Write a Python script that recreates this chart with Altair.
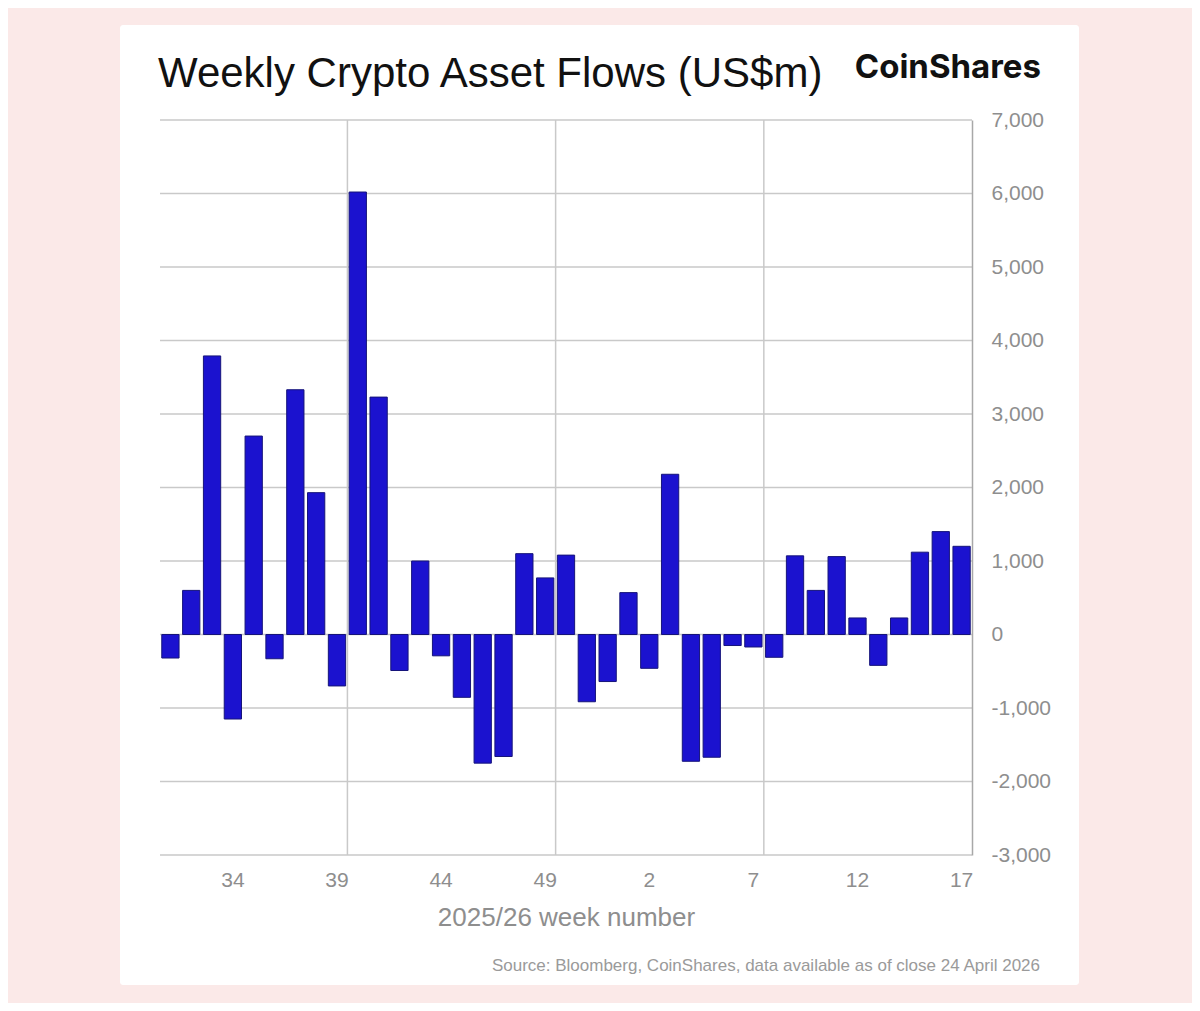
import pandas as pd
import altair as alt

# weekly flows, US$m (weeks 31-52 of 2025, then 1-17 of 2026)
weeks = ["31", "32", "33", "34", "35", "36", "37", "38", "39", "40", "41",
         "42", "43", "44", "45", "46", "47", "48", "49", "50", "51", "52",
         "1", "2", "3", "4", "5", "6", "7", "8", "9", "10", "11", "12",
         "13", "14", "15", "16", "17"]
flows = [-320, 600, 3790, -1150, 2700, -330, 3330, 1930, -700, 6020, 3230,
         -490, 1000, -290, -855, -1750, -1660, 1100, 770, 1080, -915, -640,
         570, -460, 2180, -1725, -1670, -150, -170, -310, 1070, 600, 1060, 225,
         -420, 225, 1120, 1400, 1200]

x_labels = ["34", "39", "44", "49", "2", "7", "12", "17"]
x_grid_after = ["39", "49", "7"]
y_ticks = [-3000, -2000, -1000, 0, 1000, 2000, 3000, 4000, 5000, 6000, 7000]

title_text = "Weekly Crypto Asset Flows (US$m)"
brand_text = "CoinShares"
source_text = "Source: Bloomberg, CoinShares, data available as of close 24 April 2026"

df = pd.DataFrame({"week": weeks, "flow": flows})

W, H = 812, 735
FONT = "Liberation Sans"
GREY = "#8e8e8e"
GRID = "#c9c9c9"

x_scale = alt.Scale(domain=weeks, paddingInner=0.17, paddingOuter=0.085)
y_scale = alt.Scale(domain=[-3000, 7000], nice=False, zero=False)

card = alt.Chart(pd.DataFrame({"c": [0]})).mark_rect(
    color="white", cornerRadius=3
).encode(
    x=alt.value(-40), x2=alt.value(919), y=alt.value(-95), y2=alt.value(865)
)

hgrid = alt.Chart(pd.DataFrame({"v": y_ticks})).mark_rule(
    color=GRID, strokeWidth=1.5
).encode(y=alt.Y("v:Q", scale=y_scale))

# vertical lines sit in the gap after every tenth week
vgrid = alt.Chart(pd.DataFrame({"week": x_grid_after})).mark_rule(
    color=GRID, strokeWidth=1.5, xOffset=1.8
).encode(x=alt.X("week:O", scale=x_scale, bandPosition=1))

bars = alt.Chart(df).mark_bar(
    color="#1b12cf", stroke="#16147a", strokeWidth=1
).encode(
    x=alt.X(
        "week:O",
        scale=x_scale,
        sort=weeks,
        axis=alt.Axis(
            values=x_labels,
            bandPosition=0.5,
            title="2025/26 week number",
            titleFont=FONT,
            titleFontSize=26,
            titleFontWeight="normal",
            titleColor=GREY,
            titleBaseline="alphabetic",
            titleY=70,
            labelFont=FONT,
            labelFontSize=21,
            labelColor=GREY,
            labelAngle=0,
            labelAlign="center",
            labelPadding=25,
            ticks=False,
            tickSize=0,
            domain=False,
            grid=False,
            zindex=1,
        ),
    ),
    y=alt.Y(
        "flow:Q",
        scale=y_scale,
        axis=alt.Axis(
            orient="right",
            values=y_ticks,
            labelExpr="(datum.value < 0 ? '-' : '') + format(abs(datum.value), ',')",
            title=None,
            labelFont=FONT,
            labelFontSize=21,
            labelColor=GREY,
            labelAlign="left",
            labelPadding=19,
            ticks=False,
            tickSize=0,
            domainColor="#a8a8a8",
            domainWidth=1.5,
            grid=False,
            zindex=1,
        ),
    ),
)

title = alt.Chart(pd.DataFrame({"t": [title_text]})).mark_text(
    font=FONT, fontSize=42, color="#111111", align="left", baseline="alphabetic"
).encode(text="t:N", x=alt.value(-2), y=alt.value(-33))

brand = alt.Chart(pd.DataFrame({"t": [brand_text]})).mark_text(
    font="Inter", fontSize=33, fontWeight="bold", color="#111111",
    align="right", baseline="alphabetic"
).encode(text="t:N", x=alt.value(881), y=alt.value(-42))

source = alt.Chart(pd.DataFrame({"t": [source_text]})).mark_text(
    font=FONT, fontSize=17, color="#9a9a9a", align="right", baseline="alphabetic"
).encode(text="t:N", x=alt.value(880), y=alt.value(851))

chart = alt.layer(card, hgrid, vgrid, bars, title, brand, source).properties(
    width=W,
    height=H,
    autosize=alt.AutoSizeParams(type="none"),
    padding={"left": 152, "top": 112, "right": 220, "bottom": 148},
    background="#fbe9e8",
).configure_view(strokeWidth=0)

chart.save("out.html", embed_options={"renderer": "svg", "actions": False})
